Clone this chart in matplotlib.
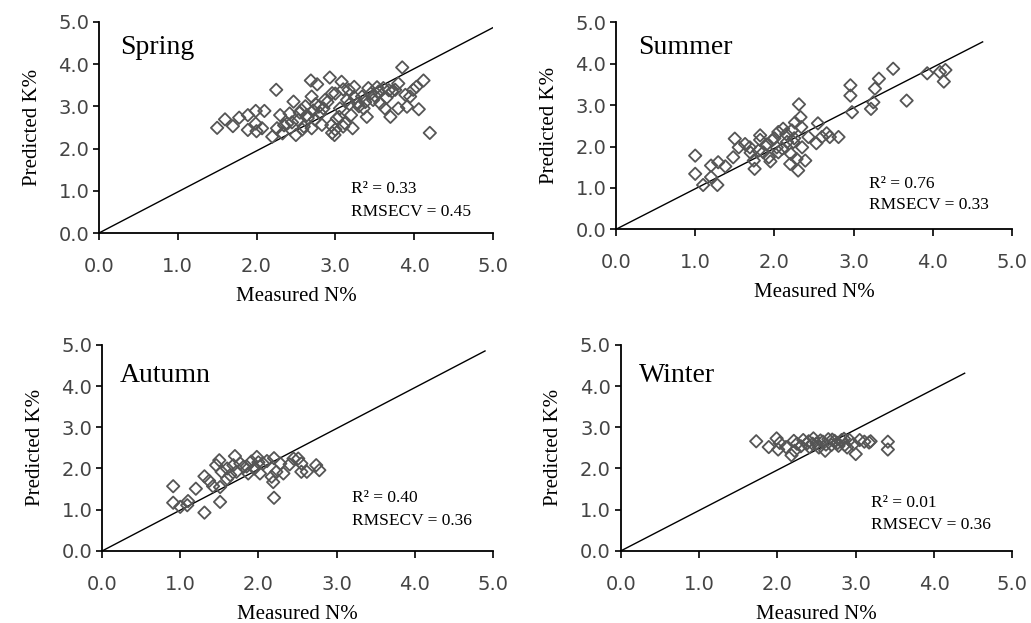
import matplotlib
matplotlib.use("Agg")
import matplotlib.pyplot as plt

# measured vs predicted values
spring_x = [1.50, 1.60, 1.70, 1.78, 1.89, 1.89, 1.99, 1.99, 2.00, 2.07, 2.10, 2.25, 2.20, 2.26,
            2.30, 2.33, 2.39, 2.42, 2.47, 2.50, 2.53, 2.57, 2.60, 2.64, 2.69, 2.70, 2.70, 2.74,
            2.77, 2.79, 2.81, 2.83, 2.87, 2.93, 2.96, 2.96, 2.99, 3.02, 3.06, 3.08, 3.10, 3.15,
            3.17, 3.20, 3.22, 3.24, 3.29, 3.34, 3.36, 3.40, 3.42, 3.48, 3.53, 3.57, 3.61, 3.63,
            3.70, 3.72, 3.76, 3.80, 3.80, 3.85, 3.89, 3.91, 3.95, 3.99, 4.06, 4.03, 4.12, 4.20,
            2.45, 2.55, 2.65, 2.75, 2.85, 2.90, 3.00, 3.05, 3.12, 3.18, 3.25, 3.30, 3.38, 3.45,
            3.50, 3.55, 3.65, 3.68, 2.35, 2.62, 2.72, 2.58, 2.95, 3.10, 3.00]
spring_y = [2.49, 2.69, 2.53, 2.73, 2.79, 2.44, 2.89, 2.59, 2.41, 2.48, 2.89, 3.39, 2.28, 2.48,
            2.79, 2.36, 2.59, 2.83, 3.11, 2.32, 2.67, 2.91, 2.52, 2.79, 3.61, 3.23, 2.48, 2.69,
            3.52, 2.99, 2.83, 2.56, 3.15, 3.68, 3.31, 2.37, 2.32, 2.71, 2.95, 3.58, 2.52, 3.15,
            3.39, 2.79, 2.48, 3.46, 3.07, 3.23, 2.95, 2.75, 3.43, 3.15, 3.45, 3.07, 3.43, 2.95,
            2.75, 3.35, 3.39, 3.54, 2.95, 3.92, 3.27, 2.99, 3.23, 3.39, 2.93, 3.46, 3.61, 2.37,
            2.62, 2.85, 2.72, 3.05, 2.95, 3.10, 3.30, 2.75, 2.60, 3.05, 3.20, 3.00, 3.10, 3.30,
            3.25, 3.35, 3.20, 3.38, 2.55, 3.00, 2.90, 2.45, 2.55, 3.40, 2.45]

summer_x = [1.00, 1.00, 1.10, 1.20, 1.20, 1.28, 1.29, 1.38, 1.48, 1.50, 1.55, 1.63, 1.69, 1.74,
            1.75, 1.82, 1.82, 1.86, 1.93, 1.95, 1.97, 2.03, 2.05, 2.11, 2.16, 2.20, 2.21, 2.22,
            2.24, 2.26, 2.28, 2.30, 2.31, 2.33, 2.34, 2.35, 2.39, 2.43, 2.53, 2.55, 2.60, 2.66,
            2.70, 2.81, 2.96, 2.96, 2.98, 3.22, 3.25, 3.27, 3.32, 3.50, 3.67, 3.93, 4.09, 4.14,
            4.16, 1.90, 2.00, 2.10, 2.15, 1.80, 1.70, 2.25, 2.05]
summer_y = [1.78, 1.34, 1.07, 1.54, 1.26, 1.07, 1.62, 1.52, 1.74, 2.19, 1.98, 2.06, 1.98, 1.66,
            1.46, 2.27, 2.16, 1.86, 1.74, 1.64, 2.15, 1.98, 1.86, 2.43, 2.11, 1.58, 1.82, 2.39,
            2.11, 2.58, 1.70, 1.42, 3.02, 2.71, 2.47, 1.98, 1.66, 2.23, 2.08, 2.56, 2.23, 2.32,
            2.23, 2.23, 3.48, 3.23, 2.83, 2.91, 3.07, 3.40, 3.64, 3.88, 3.11, 3.77, 3.80, 3.57,
            3.85, 2.05, 2.20, 1.95, 2.30, 1.90, 1.85, 2.20, 2.35]

autumn_x = [0.91, 0.91, 1.00, 1.09, 1.10, 1.20, 1.31, 1.31, 1.37, 1.42, 1.46, 1.50, 1.51, 1.51,
            1.53, 1.60, 1.64, 1.68, 1.70, 1.72, 1.77, 1.81, 1.87, 1.91, 1.98, 2.02, 2.06, 2.11,
            2.17, 2.19, 2.20, 2.20, 2.23, 2.28, 2.32, 2.40, 2.45, 2.51, 2.55, 2.55, 2.62, 2.74,
            2.78, 1.85, 1.95, 1.60, 2.00]
autumn_y = [1.57, 1.17, 1.07, 1.11, 1.21, 1.51, 0.93, 1.81, 1.70, 1.57, 2.08, 2.20, 1.19, 1.55,
            1.92, 2.00, 1.84, 2.08, 2.30, 1.92, 2.12, 2.04, 1.88, 2.17, 2.28, 1.88, 2.12, 2.18,
            1.80, 1.67, 2.25, 1.29, 1.92, 2.12, 1.88, 2.10, 2.24, 2.24, 2.12, 1.92, 1.92, 2.08,
            1.96, 2.05, 2.00, 1.75, 2.15]

winter_x = [1.73, 1.89, 1.99, 2.01, 2.03, 2.11, 2.18, 2.21, 2.22, 2.30, 2.33, 2.38, 2.41, 2.46,
            2.50, 2.53, 2.58, 2.61, 2.65, 2.69, 2.73, 2.77, 2.82, 2.86, 2.89, 2.92, 2.97, 3.00,
            3.05, 3.11, 3.17, 3.19, 3.41, 3.41, 2.45, 2.55, 2.62, 2.70, 2.78, 2.85, 2.40, 2.25]
winter_y = [2.66, 2.52, 2.73, 2.46, 2.62, 2.52, 2.32, 2.67, 2.43, 2.54, 2.69, 2.61, 2.52, 2.73,
            2.61, 2.51, 2.65, 2.43, 2.71, 2.57, 2.67, 2.62, 2.69, 2.57, 2.51, 2.69, 2.59, 2.35,
            2.69, 2.65, 2.63, 2.66, 2.65, 2.46, 2.60, 2.68, 2.58, 2.70, 2.55, 2.72, 2.66, 2.60]

# fitted line end points (start at origin)
line_end_x = [5.00, 4.63, 4.90, 4.39]
line_end_y = [4.86, 4.53, 4.85, 4.31]

seasons = ["Spring", "Summer", "Autumn", "Winter"]
r2_values = ["0.33", "0.76", "0.40", "0.01"]
rmsecv_values = ["0.45", "0.33", "0.36", "0.36"]
ticks = [0.0, 1.0, 2.0, 3.0, 4.0, 5.0]
tick_labels = ["0.0", "1.0", "2.0", "3.0", "4.0", "5.0"]

xs = [spring_x, summer_x, autumn_x, winter_x]
ys = [spring_y, summer_y, autumn_y, winter_y]

# axes boxes in figure fractions, plus label/text spots
boxes = [
    [0.096, 0.626, 0.382, 0.339],
    [0.5975, 0.632, 0.384, 0.332],
    [0.099, 0.1156, 0.379, 0.331],
    [0.602, 0.1156, 0.380, 0.331],
]
title_pos = [(0.053, 0.88), (0.056, 0.88), (0.046, 0.85), (0.046, 0.85)]
stat_pos = [(0.64, 0.21, 0.10), (0.64, 0.22, 0.116), (0.64, 0.257, 0.146), (0.64, 0.233, 0.126)]

serif = "Liberation Serif"
fig = plt.figure(figsize=(10.31, 6.23), dpi=100)

for i in range(4):
    ax = fig.add_axes(boxes[i])
    ax.plot([0, line_end_x[i]], [0, line_end_y[i]], color="black", lw=1.0, zorder=1)
    ax.scatter(xs[i], ys[i], marker="D", s=40, facecolors="none",
               edgecolors="#555555", linewidths=1.3, zorder=2)
    ax.set_xlim(0, 5)
    ax.set_ylim(0, 5)
    ax.set_xticks(ticks)
    ax.set_yticks(ticks)
    ax.set_xticklabels(tick_labels)
    ax.set_yticklabels(tick_labels)
    for side in ["top", "right"]:
        ax.spines[side].set_visible(False)
    for side in ["left", "bottom"]:
        ax.spines[side].set_linewidth(1.3)
    ax.tick_params(axis="x", direction="out", length=5, width=1.2, pad=12,
                   labelsize=14, labelcolor="#444444")
    ax.tick_params(axis="y", direction="out", length=4, width=1.2, pad=3,
                   labelsize=14, labelcolor="#444444")
    for lab in ax.get_xticklabels() + ax.get_yticklabels():
        lab.set_family("DejaVu Sans")
    ax.set_xlabel("Measured N%", family=serif, fontsize=15, labelpad=8)
    ax.set_ylabel("Predicted K%", family=serif, fontsize=15, labelpad=12)

    tx, ty = title_pos[i]
    ax.text(tx, ty, seasons[i], transform=ax.transAxes, family=serif,
            fontsize=20, va="center", ha="left")
    sx, sy1, sy2 = stat_pos[i]
    ax.text(sx, sy1, "R\u00b2 = " + r2_values[i], transform=ax.transAxes, family=serif,
            fontsize=12.5, va="center", ha="left")
    ax.text(sx, sy2, "RMSECV = " + rmsecv_values[i], transform=ax.transAxes, family=serif,
            fontsize=12.5, va="center", ha="left")

fig.savefig("out.png", dpi=100)
